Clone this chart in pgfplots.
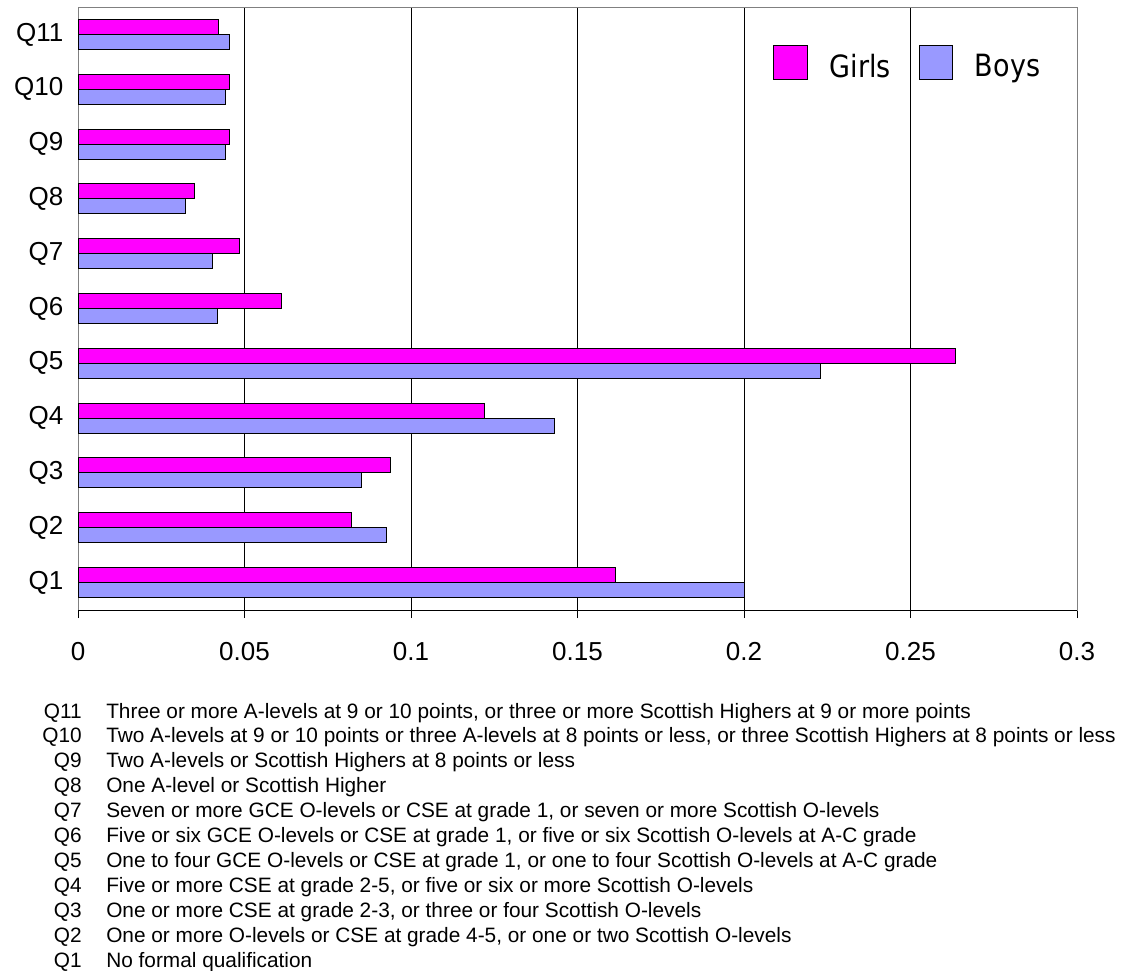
\documentclass[border=0pt]{standalone}
\usepackage{fontspec}
\setmainfont{Liberation Sans}
\newfontfamily\legfontfam[FakeStretch=0.88]{DejaVu Sans}
\usepackage{pgfplots}
\pgfplotsset{compat=1.18}
\definecolor{girls}{HTML}{FF00FF}
\definecolor{boys}{HTML}{9999FF}
\definecolor{framec}{HTML}{808080}
\newcommand{\fnfont}{\fontsize{15.62}{18}\selectfont}
\newcommand{\legfont}{\legfontfam\fontsize{23}{26}\selectfont}
\newcommand{\fn}[3]{%
  \node[anchor=base east, inner sep=0pt, font=\fnfont] at (82,{718+24.9*#1}) {#2};
  \node[anchor=base west, inner sep=0pt, font=\fnfont] at (106,{718+24.9*#1}) {#3};}

\begin{document}
\begin{tikzpicture}
\useasboundingbox (0,0) rectangle (841.5pt,-728.25pt);
\begin{axis}[
  at={(58.5pt,-457.5pt)}, anchor=south west,
  scale only axis, width=749.25pt, height=452.25pt,
  xbar, bar width=11.25pt,
  xmin=0, xmax=0.3, ymin=0.5, ymax=11.5,
  xtick={0,0.05,0.1,0.15,0.2,0.25,0.3},
  xticklabels={0,0.05,0.1,0.15,0.2,0.25,0.3},
  ytick={1,...,11},
  yticklabels={Q1,Q2,Q3,Q4,Q5,Q6,Q7,Q8,Q9,Q10,Q11},
  xmajorgrids, major grid style={black, line width=0.75pt},
  axis line style={framec, line width=0.75pt},
  tick align=outside, major tick length=6pt,
  xtick style={black, line width=0.75pt},
  ytick style={draw=none},
  xtick pos=bottom, ytick pos=left,
  ticklabel style={font=\fontsize{19.5}{22}\selectfont},
  xticklabel style={yshift=-15pt},
  yticklabel style={xshift=-1.5pt},
  legend style={at={(0.6957,0.937)}, anchor=north west, draw=none, fill=none,
    inner sep=0pt, legend columns=2, font=\legfont,
    nodes={inner sep=0pt},
    /tikz/every even column/.append style={column sep=21pt}},
  legend image code/.code={\draw[#1, draw=black, line width=0.75pt] (0pt,-9.5pt) rectangle (25pt,15.5pt); \path (41.5pt,0pt);},
]
\addplot[fill=girls, draw=black, line width=0.75pt, bar shift=5.625pt] coordinates {
  (0.1614,1) (0.0822,2) (0.0937,3) (0.1220,4) (0.2634,5) (0.0611,6)
  (0.0486,7) (0.0351,8) (0.0456,9) (0.0456,10) (0.0421,11)};
\addplot[fill=boys, draw=black, line width=0.75pt, bar shift=-5.625pt] coordinates {
  (0.2000,1) (0.0927,2) (0.0850,3) (0.1432,4) (0.2230,5) (0.0418,6)
  (0.0403,7) (0.0322,8) (0.0442,9) (0.0442,10) (0.0456,11)};
\legend{Girls,Boys}
\draw[black, line width=0.75pt] (rel axis cs:0,0) -- (rel axis cs:1,0);
\end{axis}
\begin{scope}[x=0.75pt, y=-0.75pt]
\fn{0}{Q11}{Three or more A-levels at 9 or 10 points, or three or more Scottish Highers at 9 or more points}
\fn{1}{Q10}{Two A-levels at 9 or 10 points or three A-levels at 8 points or less, or three Scottish Highers at 8 points or less}
\fn{2}{Q9}{Two A-levels or Scottish Highers at 8 points or less}
\fn{3}{Q8}{One A-level or Scottish Higher}
\fn{4}{Q7}{Seven or more GCE O-levels or CSE at grade 1, or seven or more Scottish O-levels}
\fn{5}{Q6}{Five or six GCE O-levels or CSE at grade 1, or five or six Scottish O-levels at A-C grade}
\fn{6}{Q5}{One to four GCE O-levels or CSE at grade 1, or one to four Scottish O-levels at A-C grade}
\fn{7}{Q4}{Five or more CSE at grade 2-5, or five or six or more Scottish O-levels}
\fn{8}{Q3}{One or more CSE at grade 2-3, or three or four Scottish O-levels}
\fn{9}{Q2}{One or more O-levels or CSE at grade 4-5, or one or two Scottish O-levels}
\fn{10}{Q1}{No formal qualification}
\end{scope}
\end{tikzpicture}
\end{document}
